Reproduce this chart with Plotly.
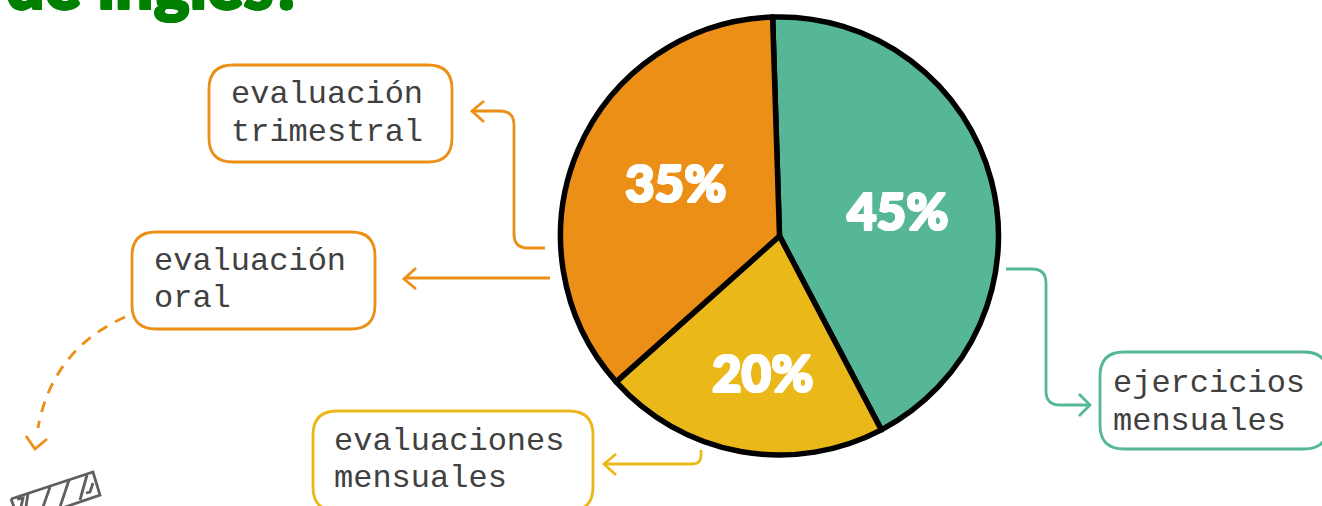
import plotly.graph_objects as go

categories = ["ejercicios mensuales", "evaluaciones mensuales", "evaluación oral y trimestral"]
slice_shares = [42.8, 21.1, 36.1]
printed_labels = ["45%", "20%", "35%"]
slice_colors = ["#55B798", "#EBB81A", "#EC8F17"]
ORANGE, YELLOW, GREEN, GREY = "#EC8F17", "#EBB81A", "#55B798", "#5F5F5F"

W, H = 1322, 506
CX, CY, R = 779.5, 236, 219

fig = go.Figure(go.Pie(
    labels=categories, values=slice_shares, sort=False, direction="clockwise", rotation=-1.8,
    marker=dict(colors=slice_colors, line=dict(color="black", width=5.5)),
    textinfo="none", hoverinfo="label", showlegend=False,
    domain=dict(x=[(CX - R) / W, (CX + R) / W], y=[1 - (CY + R) / H, 1 - (CY - R) / H]),
))

def rbox(x0, y0, x1, y1, r=24):
    return (f"M{x0+r},{y0} L{x1-r},{y0} Q{x1},{y0} {x1},{y0+r} L{x1},{y1-r} Q{x1},{y1} {x1-r},{y1} "
            f"L{x0+r},{y1} Q{x0},{y1} {x0},{y1-r} L{x0},{y0+r} Q{x0},{y0} {x0+r},{y0} Z")

def add_path(path, color, width=2.8, dash="solid"):
    fig.add_shape(type="path", path=path, xref="x", yref="y", layer="above",
                  line=dict(color=color, width=width, dash=dash))

for box, color in [((209, 65, 452, 162), ORANGE), ((132, 232, 375, 329), ORANGE),
                   ((313, 411, 593, 511), YELLOW), ((1100, 352, 1328, 449), GREEN)]:
    add_path(rbox(*box), color)

add_path("M545,248 L528,248 Q514,248 514,234 L514,125 Q514,111 500,111 L473,111", ORANGE)
add_path("M484,101 L472,111 L484,122", ORANGE)
add_path("M550,278 L405,278", ORANGE)
add_path("M416,268 L404,279 L416,289", ORANGE)
add_path("M701,450 L701,456 Q701,464 692,464 L606,464", YELLOW)
add_path("M616,454 L604,464 L616,475", YELLOW)
add_path("M1006,269 L1032,269 Q1046,269 1046,283 L1046,391 Q1046,405 1060,405 L1089,405", GREEN)
add_path("M1079,394 L1090,405 L1079,416", GREEN)
add_path("M125,317 Q52,350 38,428", ORANGE, dash="11px,9px")
add_path("M26,436 L35,449 L47,439", ORANGE)

for p in ["M11,499 L93,472 L100,495 L65,507", "M11,499 L14,507", "M28,493 L26,507", "M50,487 L43,507",
          "M69,480 L60,507", "M87,475 L80,500", "M93,483 L90,492 L86,493", "M17,499 L23,498 L21,507"]:
    add_path(p, GREY)

def fat(c, d):
    return ", ".join(f"{a}px {b}px 0 {c}" for a, b in [(d, 0), (-d, 0), (0, d), (0, -d), (d, d), (-d, -d), (d, -d), (-d, d)])

def label(x, y, text, size, color, family, anchor="left", weight=400, shadow="none", yref="y"):
    fig.add_annotation(x=x, y=y, xref="x", yref=yref, text=text,
                       showarrow=False, xanchor=anchor, yanchor="middle", align="left",
                       font=dict(size=size, color=color, family=family, weight=weight, shadow=shadow))

MONO = "Liberation Mono"
for x, y, t in [(229, 94.5, "evaluación"), (229, 132.5, "trimestral"), (152, 261.5, "evaluación"), (152, 298.5, "oral"),
                (332, 441.5, "evaluaciones"), (332, 478.5, "mensuales"), (1111, 383.5, "ejercicios"), (1111, 421.5, "mensuales")]:
    label(x, y, t, 32, "#404040", MONO)

pct_pos = [(897, 210), (762, 372), (675, 182)]
for (x, y), t in zip(pct_pos, printed_labels):
    label(x, y, t, 51, "white", "Lato", anchor="center", weight=900, shadow=fat("white", 1))

label(4, 1 + 17 / H, "de inglés?", 68, "#008000", "Lato", weight=900, shadow=fat("#008000", 1), yref="paper")

axis = dict(visible=False, fixedrange=True)
fig.update_layout(
    width=W, height=H, margin=dict(l=0, r=0, t=0, b=0), paper_bgcolor="white", plot_bgcolor="rgba(0,0,0,0)",
    xaxis=dict(range=[0, W], domain=[0, 1], **axis), yaxis=dict(range=[H, 0], domain=[0, 1], **axis),
)
fig.add_trace(go.Scatter(x=[0, W], y=[0, H], mode="markers", marker=dict(opacity=0), hoverinfo="skip", showlegend=False))
fig.write_html("out.html", config=dict(displayModeBar=False),
               post_script="document.body.style.margin='0';document.body.style.overflow='hidden';")
